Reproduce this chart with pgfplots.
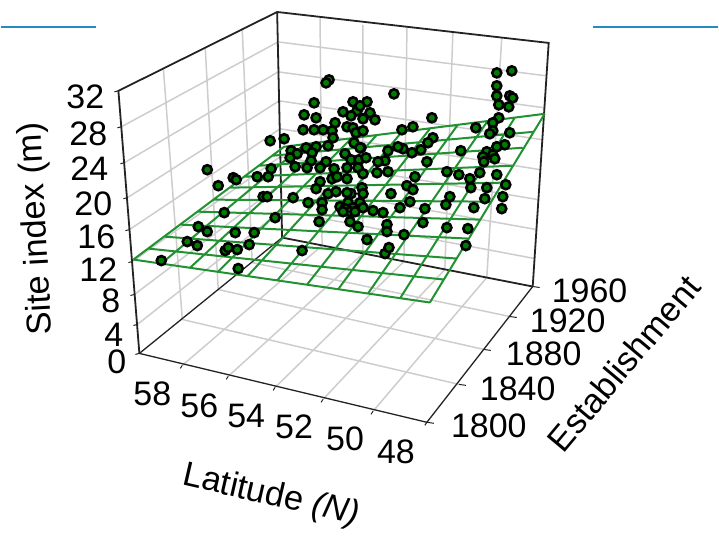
\documentclass[border=0pt]{standalone}
\usepackage{pgfplots}
\pgfplotsset{compat=1.18}
\usepackage{fontspec}
\setmainfont{Liberation Sans}
\definecolor{gridc}{RGB}{205,205,205}
\definecolor{axc}{RGB}{35,35,35}
\definecolor{meshc}{RGB}{34,145,50}
\definecolor{ptc}{RGB}{0,125,0}
\definecolor{rulec}{RGB}{35,140,200}
\newcommand{\lab}[3]{\node[font=\fontsize{34}{36}\selectfont,inner sep=0pt,#1] at (axis cs:#2) {#3};}
\begin{document}
\begin{tikzpicture}
\begin{axis}[
  scale only axis, width=719pt, height=540pt,
  xmin=0, xmax=719, ymin=0, ymax=540, y dir=reverse,
  hide axis, clip=false, unbounded coords=jump,
]
% grid on walls and floor
\addplot[gridc, line width=1.5pt] coordinates {
(121,127)(278,42)(547,76)(nan,nan)
(124,163)(278,72)(545,108)(nan,nan)
(127,198)(279,101)(543,140)(nan,nan)
(129,230)(280,129)(541,170)(nan,nan)
(132,262)(280,157)(539,200)(nan,nan)
(134,295)(281,184)(537,230)(nan,nan)
(137,325)(281,211)(535,259)(nan,nan)
(163,68)(182,320)(nan,nan)
(205,48)(218,290)(nan,nan)
(242,28)(252,263)(nan,nan)
(320,18)(322,246)(nan,nan)
(363,25)(363,254)(nan,nan)
(407,28)(404,262)(nan,nan)
(453,33)(445,270)(nan,nan)
(502,38)(487,278)(nan,nan)
(182,366)(322,246)(nan,nan)
(228,377)(363,254)(nan,nan)
(275,388)(404,262)(nan,nan)
(323,400)(445,270)(nan,nan)
(373,412)(487,278)(nan,nan)
(182,320)(459,385)(nan,nan)
(218,290)(484,350)(nan,nan)
(252,263)(510,317)
};
% box edges
\addplot[axc, line width=1.8pt] coordinates {
(139,354)(118,91)(277,12)(549,43)(533,287)(nan,nan)
(277,12)(282,238)(533,287)
};
\addplot[axc, line width=1.3pt] coordinates {
(282,238)(139,354)(427,423)(533,287)
};
% tick marks
\addplot[axc, line width=1pt] coordinates {
(118,91)(114,92)(nan,nan)(121,127)(117,128)(nan,nan)(124,163)(120,164)(nan,nan)
(127,198)(123,199)(nan,nan)(129,230)(125,231)(nan,nan)(132,262)(128,263)(nan,nan)
(134,295)(130,296)(nan,nan)(137,325)(133,326)(nan,nan)(139,354)(135,355)(nan,nan)
(182,366)(180,369)(nan,nan)(228,377)(226,380)(nan,nan)(275,388)(273,391)(nan,nan)
(323,400)(321,403)(nan,nan)(373,412)(371,415)(nan,nan)(427,423)(425,426)(nan,nan)
(533,287)(540,288)(nan,nan)(510,317)(517,318)(nan,nan)(484,350)(491,351)(nan,nan)
(459,385)(466,386)(nan,nan)(427,423)(434,424)
};
% points under the surface
\addplot[only marks, mark=*, mark size=4.55pt, mark options={draw=black, fill=ptc, line width=2.6pt}] coordinates {
(161,261)(238,269)(187,242)(254,233)(249,245)(225,251)(228,248)(302,251)(275,218)
(263,197)(267,197)(293,198)(319,222)(404,235)(385,254)(389,248)(466,246)(505,145)
(497,147)(433,138)(428,143)(361,148)
};
% fitted surface
\addplot[meshc, line width=2pt] coordinates {
(133,260)(430,303)(nan,nan)(148,249)(444,280)(nan,nan)(164,237)(457,259)(nan,nan)
(180,225)(469,239)(nan,nan)(197,212)(480,220)(nan,nan)(213,200)(491,202)(nan,nan)
(229,188)(502,183)(nan,nan)(244,177)(512,166)(nan,nan)(259,166)(523,148)(nan,nan)
(272,156)(534,132)(nan,nan)(284,147)(545,114)(nan,nan)
(133,260)(284,147)(nan,nan)(161,264)(305,144)(nan,nan)(190,268)(328,141)(nan,nan)
(218,272)(352,138)(nan,nan)(247,277)(377,135)(nan,nan)(277,281)(402,132)(nan,nan)
(307,285)(430,129)(nan,nan)(338,290)(458,125)(nan,nan)(368,294)(488,121)(nan,nan)
(400,299)(515,118)(nan,nan)(430,303)(545,114)
};
% points over the surface
\addplot[only marks, mark=*, mark size=4.55pt, mark options={draw=black, fill=ptc, line width=2.6pt}] coordinates {
(329,80)(326,83)(314,103)(304,115)(316,118)(303,130)(314,130)(323,130)(335,123)
(332,131)(333,138)(328,146)(316,147)(306,148)(291,151)(270,141)(284,139)(297,154)
(290,158)(312,153)(311,161)(326,162)(307,168)(320,168)(295,167)(271,169)(257,177)
(268,177)(207,170)(233,178)(236,180)(218,186)(320,182)(316,189)(328,194)(334,169)
(332,179)(336,192)
(353,102)(367,102)(357,111)(343,112)(351,116)(360,106)(370,113)(363,119)(375,120)
(347,127)(353,128)(356,133)(363,131)(354,143)(360,148)(345,154)(351,160)(359,160)
(366,158)(347,168)(358,168)(363,174)(347,179)(337,177)(351,194)(362,188)(363,194)
(347,193)
(394,94)(432,118)(413,127)(402,130)(403,149)(398,147)(388,151)(412,153)(421,150)
(427,162)(385,161)(378,162)(377,173)(388,172)(415,177)(476,128)
(497,73)(512,71)(497,86)(497,96)(510,96)(513,98)(499,105)(509,107)(499,118)(493,123)
(493,131)(490,134)(510,133)(487,152)(483,157)(493,155)(495,159)(484,162)(461,151)
(447,172)(459,175)(470,179)(480,173)(497,175)(471,188)(487,188)(506,185)(503,197)
(485,199)(450,197)(446,205)(425,209)(474,208)(502,209)(410,202)(407,186)(413,190)
(391,194)
(308,203)(322,203)(322,210)(340,207)(348,203)(353,208)(345,209)(350,212)(355,212)
(343,212)(360,203)(363,208)(373,211)(383,213)(400,208)(350,222)(358,227)(423,223)
(447,228)(468,229)(387,225)(387,232)(367,240)
(198,227)(207,232)(235,233)(197,246)(237,250)(224,213)
};
% rules at the top
\addplot[rulec, line width=1.2pt] coordinates {(0,27)(96,27)(nan,nan)(593,27)(719,27)};
\addplot[draw=none, forget plot] coordinates {(0,0)(719,540)};
% tick labels
\lab{anchor=east}{104,97}{32}
\lab{anchor=east}{107,134}{28}
\lab{anchor=east}{108,169}{24}
\lab{anchor=east}{112,204}{20}
\lab{anchor=east}{115,237}{16}
\lab{anchor=east}{117,270}{12}
\lab{anchor=east}{120,301}{8}
\lab{anchor=east}{123,335}{4}
\lab{anchor=east}{126,362}{0}
\lab{}{152,394}{58}
\lab{}{199,406}{56}
\lab{}{246,417}{54}
\lab{}{294,428}{52}
\lab{}{345,440}{50}
\lab{}{396,453}{48}
\lab{}{590,291}{1960}
\lab{}{568,321}{1920}
\lab{}{544,354}{1880}
\lab{}{518,389}{1840}
\lab{}{489,427}{1800}
% axis titles
\node[font=\fontsize{34.5}{36}\selectfont, rotate=93, inner sep=0pt] at (axis cs:37,229) {Site index (m)};
\node[font=\fontsize{34.5}{36}\selectfont, rotate=-13, inner sep=0pt] at (axis cs:271,497) {Latitude \textit{(N)}};
\node[font=\fontsize{34.5}{36}\selectfont, rotate=50, inner sep=0pt] at (axis cs:624,364) {Establishment};
\end{axis}
\end{tikzpicture}
\end{document}
